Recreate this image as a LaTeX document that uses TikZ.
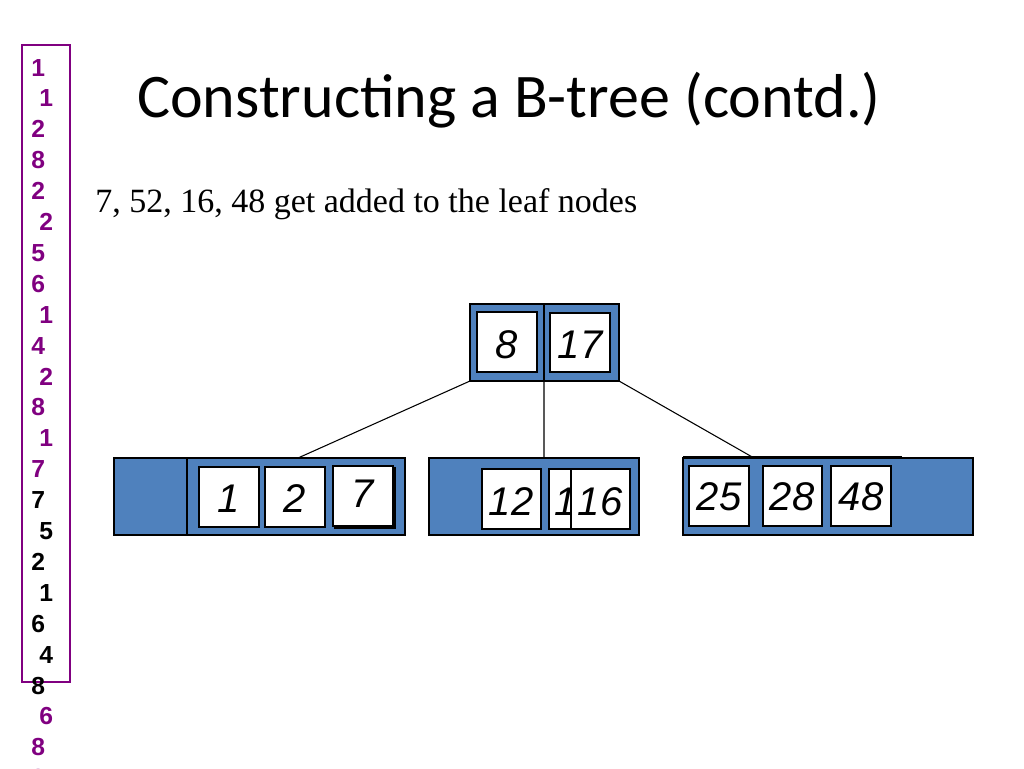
\documentclass[tikz,border=0pt]{standalone}
\usepackage{fontspec}
\setmainfont{Liberation Serif}
\newfontfamily\titlefont{Carlito}
\newfontfamily\numfont{Liberation Sans}
\begin{document}
\begin{tikzpicture}[x=0.75pt,y=-0.75pt,
  blue/.style={fill={rgb,255:red,79;green,129;blue,189},draw=black,line width=0.8pt},
  key/.style={fill=white,draw=black,line width=0.8pt},
  num/.style={font=\numfont\itshape\fontsize{30}{30}\selectfont,anchor=center},
  col/.style={font=\numfont\bfseries\fontsize{18.5}{18.5}\selectfont,anchor=base west,inner sep=0}]
\useasboundingbox (0,0) rectangle (1024,768);
\definecolor{purp}{RGB}{128,0,128}
\node[font=\titlefont\fontsize{46.5}{46.5}\selectfont,anchor=west,inner sep=0] (title) at (137,100) {Constructing a B-tree (contd.)};
\node[font=\fontsize{25.5}{25.5}\selectfont,anchor=west,inner sep=0] (sub) at (95,204) {7, 52, 16, 48 get added to the leaf nodes};
\draw[purp,line width=0.8pt] (22,45) rectangle (70,682);
\foreach \t/\x/\c [count=\i from 0] in {1/31/purp,1/39/purp,2/31/purp,8/31/purp,2/31/purp,2/39/purp,5/31/purp,6/31/purp,1/39/purp,4/31/purp,2/39/purp,8/31/purp,1/39/purp,7/31/purp,7/31/black,5/39/black,2/31/black,1/39/black,6/31/black,4/39/black,8/31/black,6/39/purp,8/31/purp,2/31/purp}
  \node[col,text=\c] (c\i) at (\x,76+30.9*\i) {\t};
% root
\draw[blue] (470,304) rectangle (619,381);
\draw[line width=0.8pt] (544,304) -- (544,381);
\draw[key] (477,312) rectangle (537,372);
\draw[key] (550,313) rectangle (610,372);
\node[num] (r8) at (507,345) {8};
\node[num] (r17) at (580,345) {17};
\coordinate (rl) at (470,381); \coordinate (rm) at (544,381); \coordinate (rr) at (619,381);
\coordinate (ll) at (298,458); \coordinate (ml) at (544,458); \coordinate (rrl) at (754,458);
\draw[line width=0.8pt] (rl)--(ll) (rm)--(ml) (rr)--(rrl);
% left leaf
\draw[blue] (114,458) rectangle (405,535);
\draw[line width=0.8pt] (187,458) -- (187,535) (187,535)--(405,535);
\draw[key] (199,467) rectangle (259,527);
\draw[key] (265,467) rectangle (325,527);
\draw[key] (335,468) rectangle (395,528);
\draw[key] (333,466) rectangle (393,526);
\node[num] at (229,499) {1};
\node[num] at (295,499) {2};
\node[num] at (363,494) {7};
% middle leaf
\draw[blue] (429,458) rectangle (639,535);
\draw[key] (482,469) rectangle (541,529);
\draw[key] (549,469) rectangle (608,529);
\node[num] at (566,502) {1};
\draw[key] (571,469) rectangle (630,529);
\node[num] at (511,502) {12};
\node[num] at (600,502) {16};
% right leaf
\draw[blue] (683,458) rectangle (973,535);
\draw[line width=0.8pt] (683,457) -- (902,457);
\draw[key] (689,466) rectangle (749,526);
\draw[key] (763,466) rectangle (822,526);
\draw[key] (831,466) rectangle (891,526);
\node[num] at (719,497) {25};
\node[num] at (792,497) {28};
\node[num] at (861,497) {48};
\end{tikzpicture}
\end{document}
